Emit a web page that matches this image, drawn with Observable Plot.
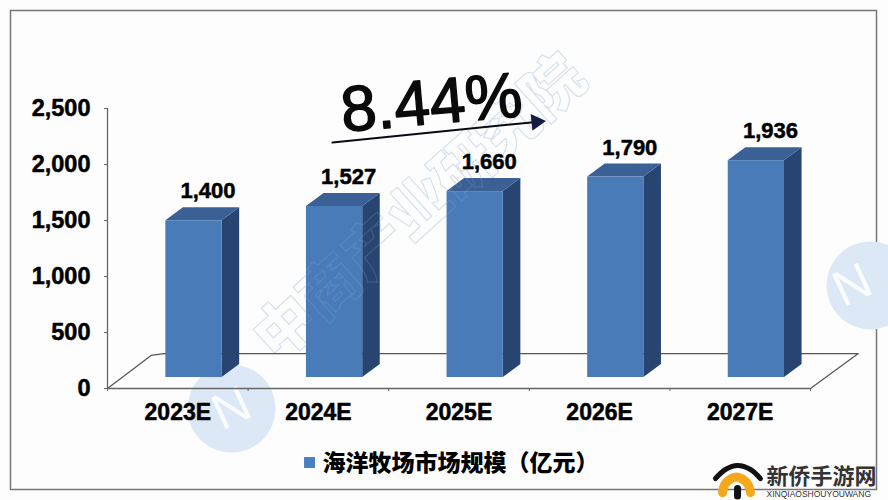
<!DOCTYPE html>
<html lang="zh">
<head>
<meta charset="utf-8">
<script src="https://cdn.jsdelivr.net/npm/d3@7"></script>
<script src="https://cdn.jsdelivr.net/npm/@observablehq/plot@0.6"></script>
<style>
html,body{margin:0;padding:0;background:#fdfdfd;overflow:hidden}
svg{display:block}
</style>
</head>
<body>
<div id="chart"></div>
<script>
const categories = ["2023E", "2024E", "2025E", "2026E", "2027E"];
const values = [1400, 1527, 1660, 1790, 1936];
const yTicks = [0, 500, 1000, 1500, 2000, 2500];
const legendLabel = "海洋牧场市场规模（亿元）";
const growthLabel = "8.44%";
const watermarkLabel = "中商产业研究院";

// 3D projection of the chart, in scale units
const barOffset = 0.115, barHalf = 0.2, barLift = 98, sideDx = 0.125, sideDy = 116;
const floorPath = [
  {x: -0.5, y: 0}, {x: -0.19, y: 295}, {x: -0.1, y: 312},
  {x: 4.84, y: 312}, {x: 4.5, y: 0}
];
const growthArrow = [{x: 1.10, y: 2196}, {x: 2.55, y: 2380}];
const badgeCircles = [{x: 0.382, y: -179}, {x: 4.927, y: 920}];
const badgeGlyphs = [{x: 0.382, y: -179}, {x: 4.80, y: 920}];
const roofPath = [
  {x: 3.824, y: -804}, {x: 3.895, y: -723}, {x: 3.981, y: -688},
  {x: 4.073, y: -723}, {x: 4.144, y: -804}
];
const archPath = [
  {x: 3.874, y: -929}, {x: 3.895, y: -848}, {x: 3.973, y: -790},
  {x: 4.051, y: -848}, {x: 4.073, y: -929}
];
const doorPath = [{x: 3.981, y: -893}, {x: 3.981, y: -960}];

const bars = categories.map((c, i) => ({
  i, c, v: values[i],
  x1: i + barOffset - barHalf,
  x2: i + barOffset + barHalf,
  y1: barLift,
  y2: values[i] + barLift
}));
const sideRows = bars.flatMap(b => [
  {z: b.i, x: b.x2, y1: b.y1, y2: b.y2},
  {z: b.i, x: b.x2 + sideDx, y1: b.y1 + sideDy, y2: b.y2 + sideDy}
]);
const topRows = bars.flatMap(b => [
  {z: b.i, x1: b.x1, x2: b.x2, y: b.y2},
  {z: b.i, x1: b.x1 + sideDx, x2: b.x2 + sideDx, y: b.y2 + sideDy}
]);

const sans = "'Liberation Sans', Arial, sans-serif";
const cjk = "'Noto Sans CJK SC', sans-serif";
const wmOpts = {
  x: () => 1.726, y: () => 1607, text: d => d, rotate: -42,
  fontSize: 60, fontWeight: 900, fontFamily: cjk
};

const chart = Plot.plot({
  width: 888, height: 500,
  marginLeft: 107, marginRight: 78, marginTop: 108, marginBottom: 112,
  x: {type: "linear", domain: [-0.5, 4.5]},
  y: {type: "linear", domain: [0, 2500]},
  style: {background: "#fdfdfd", fontFamily: sans, overflow: "visible"},
  marks: [
    Plot.frame({stroke: "#777", strokeWidth: 1.5, insetLeft: -97, insetTop: -98, insetRight: -66, insetBottom: -101}),

    // watermark
    Plot.dot(badgeCircles, {x: "x", y: "y", r: 44, fill: "#dde8f7"}),
    Plot.text(badgeGlyphs, {x: "x", y: "y", text: () => "N", rotate: -25, fontSize: 50, fill: "#fbfcfe", fontFamily: sans}),
    Plot.text([watermarkLabel], {...wmOpts, fill: "#fdfdfd", stroke: "#d3e0ee", strokeWidth: 1.3}),

    // floor and axes
    Plot.line(floorPath, {x: "x", y: "y", stroke: "#555", strokeWidth: 1.2}),
    Plot.ruleX([-0.5], {y1: 0, y2: 2500, stroke: "#666", strokeWidth: 1.3}),
    Plot.ruleY([0], {x1: -0.5, x2: 4.5, stroke: "#666", strokeWidth: 1.3}),
    Plot.axisY({
      ticks: yTicks, tickFormat: d3.format(","), label: null,
      tickSize: 3, tickPadding: 14, fontSize: 23.5, fontWeight: 700,
      color: "#000", textStroke: "#000", textStrokeWidth: 0.5, stroke: "#666"
    }),
    Plot.axisX({
      ticks: [-0.5, 0.5, 1.5, 2.5, 3.5, 4.5], tickFormat: () => "", label: null,
      tickSize: 3, stroke: "#666"
    }),
    Plot.axisX({
      ticks: categories.map((c, i) => i), tickFormat: i => categories[i], label: null,
      tickSize: 0, tickPadding: 15, fontSize: 23, fontWeight: 700,
      color: "#000", textStroke: "#000", textStrokeWidth: 0.5
    }),

    // bars
    Plot.area(sideRows, {x1: "x", y1: "y1", y2: "y2", z: "z", fill: "#274570"}),
    Plot.areaX(topRows, {x1: "x1", x2: "x2", y: "y", z: "z", fill: "#3a6096"}),
    Plot.rect(bars, {x1: "x1", x2: "x2", y1: "y1", y2: "y2", fill: "#4a7bb9", inset: 0}),
    Plot.text([watermarkLabel], {...wmOpts, fill: "none", stroke: "#9db8d6", strokeOpacity: 0.2, strokeWidth: 1.2}),

    // value labels
    Plot.text(bars, {
      x: d => d.i + barOffset + 0.1, y: d => d.v + barLift + 262,
      text: d => d3.format(",")(d.v),
      fontSize: 22, fontWeight: 700, fill: "#000", stroke: "#000", strokeWidth: 0.5
    }),

    // growth annotation
    Plot.text([growthLabel], {
      x: () => 1.804, y: () => 2545, text: d => d, rotate: -5,
      fontSize: 64, fill: "#0a0a0a", stroke: "#0a0a0a", strokeWidth: 1.5
    }),
    Plot.line(growthArrow, {x: "x", y: "y", stroke: "#0a0a14", strokeWidth: 2}),
    Plot.dot([growthArrow[1]], {x: "x", y: "y", symbol: "triangle2", r: 8, fill: "#141c40", rotate: 84}),

    // legend
    Plot.dot([{x: 0.937, y: -661}], {x: "x", y: "y", symbol: "square", r: 6.2, fill: "#4a7fc1"}),
    Plot.text([legendLabel], {
      x: () => 1.029, y: () => -670, text: d => d, textAnchor: "start",
      fontSize: 23, fontWeight: 900, fontFamily: cjk, fill: "#000"
    }),

    // site logo
    Plot.line(archPath, {x: "x", y: "y", curve: "catmull-rom", stroke: "#f4a81c", strokeWidth: 9, fill: "none"}),
    Plot.line(roofPath, {x: "x", y: "y", curve: "catmull-rom", stroke: "#111", strokeWidth: 5, strokeLinecap: "round", fill: "none"}),
    Plot.line(doorPath, {x: "x", y: "y", stroke: "#111", strokeWidth: 7}),
    Plot.text(["新侨手游网"], {
      x: () => 4.187, y: () => -786, text: d => d, textAnchor: "start",
      fontSize: 22, fontWeight: 700, fontFamily: cjk, fill: "#333"
    }),
    Plot.text(["XINQIAOSHOUYOUWANG"], {
      x: () => 4.187, y: () => -946, text: d => d, textAnchor: "start",
      fontSize: 8.5, fill: "#333", fontFamily: sans
    })
  ]
});
document.getElementById("chart").append(chart);
</script>
</body>
</html>
